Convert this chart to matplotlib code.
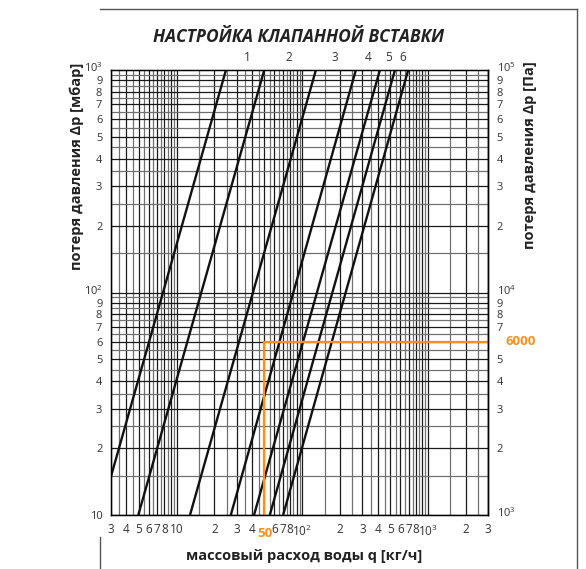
import matplotlib
matplotlib.use("Agg")
import matplotlib.pyplot as plt
import matplotlib.transforms as mtransforms
import numpy as np
from matplotlib.lines import Line2D

plt.rcParams["font.family"] = ["Open Sans", "DejaVu Sans"]
plt.rcParams["mathtext.fontset"] = "custom"
plt.rcParams["mathtext.rm"] = "Open Sans"

TITLE = "НАСТРОЙКА КЛАПАННОЙ ВСТАВКИ"
X_LABEL = "массовый расход воды q [кг/ч]"
Y_LABEL_LEFT = "потеря давления Δp [мбар]"
Y_LABEL_RIGHT = "потеря давления Δp [Па]"

# valve insert curves: flow (kg/h) read where each curve meets 1000 mbar and 10 mbar
SETTINGS = ["1", "2", "3", "4", "5", "6", ""]
Q_AT_1000 = [24.7, 49.8, 128, 266, 413, 544, 693]
Q_AT_10 = [2.47, 4.97, 12.8, 27.0, 41.3, 55.1, 70.3]
DP_ENDS = [1000, 10]
# where the setting numbers sit above the chart (kg/h)
SETTING_LABEL_Q = [36.3, 78.4, 181, 333, 481, 633]

# worked example (orange)
Q_EXAMPLE = 50
DP_EXAMPLE = 60  # mbar -> 6000 Pa

X_TICKS = [3, 4, 5, 6, 7, 8, 10, 20, 30, 40, 60, 70, 80, 100,
           200, 300, 400, 500, 600, 700, 800, 1000, 2000, 3000]
X_TICK_LABELS = ["3", "4", "5", "6", "7", "8", "10", "2", "3", "4", "6", "7", "8",
                 r"$\mathregular{10^2}$", "2", "3", "4", "5", "6", "7", "8",
                 r"$\mathregular{10^3}$", "2", "3"]
Y_TICKS = [10, 20, 30, 40, 50, 60, 70, 80, 90, 100,
           200, 300, 400, 500, 600, 700, 800, 900, 1000]
Y_TICK_LABELS = ["10", "2", "3", "4", "5", "6", "7", "8", "9", r"$\mathregular{10^2}$",
                 "2", "3", "4", "5", "6", "7", "8", "9", r"$\mathregular{10^3}$"]
Y2_TICKS = [1000, 2000, 3000, 4000, 5000, 7000, 8000, 9000, 10000,
            20000, 30000, 40000, 50000, 60000, 70000, 80000, 90000, 100000]
Y2_TICK_LABELS = [r"$\mathregular{10^3}$", "2", "3", "4", "5", "7", "8", "9",
                  r"$\mathregular{10^4}$", "2", "3", "4", "5", "6", "7", "8", "9",
                  r"$\mathregular{10^5}$"]

ORANGE = "#f7901e"
TICK_COLOR = "#333333"
TICK_SIZE = 8.5
Y_TICK_SIZE = 8

fig = plt.figure(figsize=(5.86, 5.69), dpi=100)
ax = fig.add_axes([110.7 / 586, 54 / 569, 377.6 / 586, 445 / 569])
ax.set_xscale("log")
ax.set_yscale("log")
ax.set_xlim(3, 3000)
ax.set_ylim(10, 1000)

# log paper grid: every half unit inside each decade
mult = np.arange(1, 10, 0.5)
for dec in [1, 10, 100, 1000]:
    for m in mult:
        v = m * dec
        if 3 <= v <= 3000:
            c = "#1a1a1a" if m == int(m) else "#707070"
            ax.axvline(v, color=c, lw=0.9, zorder=1)
for dec in [10, 100]:
    for m in mult:
        v = m * dec
        c = "#1a1a1a" if m == int(m) else "#707070"
        ax.axhline(v, color=c, lw=0.9, zorder=1)

for q_top, q_bot in zip(Q_AT_1000, Q_AT_10):
    ax.plot([q_top, q_bot], DP_ENDS, color="#111111", lw=1.7, zorder=3,
            solid_capstyle="butt")

# worked example
ax.plot([Q_EXAMPLE, Q_EXAMPLE], [10, DP_EXAMPLE], color=ORANGE, lw=1.6, zorder=4)
ax.plot([Q_EXAMPLE, 3000], [DP_EXAMPLE, DP_EXAMPLE], color=ORANGE, lw=1.6, zorder=4)

ax.set_xticks(X_TICKS)
ax.set_xticklabels(X_TICK_LABELS)
ax.set_yticks(Y_TICKS)
ax.set_yticklabels(Y_TICK_LABELS)
ax.minorticks_off()
ax.tick_params(length=0, colors=TICK_COLOR, pad=6)
ax.tick_params(axis="x", labelsize=TICK_SIZE)
ax.tick_params(axis="y", labelsize=Y_TICK_SIZE)
for sp in ax.spines.values():
    sp.set_linewidth(1.0)
    sp.set_zorder(5)

ax2 = ax.twinx()
ax2.set_yscale("log")
ax2.set_ylim(1000, 100000)
ax2.set_yticks(Y2_TICKS)
ax2.set_yticklabels(Y2_TICK_LABELS)
ax2.minorticks_off()
ax2.tick_params(length=0, labelsize=Y_TICK_SIZE, colors=TICK_COLOR, pad=6)
ax2.spines["right"].set_linewidth(1.0)

# powers of ten sit a little above their grid line, as on the original sheet
up = mtransforms.ScaledTranslation(0, 3 / 100, fig.dpi_scale_trans)
for axis_ in (ax.yaxis, ax2.yaxis):
    for lab in axis_.get_ticklabels():
        if "10^" in lab.get_text():
            lab.set_transform(lab.get_transform() + up)

for lab, q in zip(SETTINGS, SETTING_LABEL_Q):
    ax.text(q, 1000 * 1.06, lab, ha="center", va="bottom", fontsize=TICK_SIZE,
            color=TICK_COLOR, clip_on=False)

ax.text(Q_EXAMPLE, 10 * 0.83, "50", ha="center", va="center", fontsize=9.5,
        fontweight="bold", color=ORANGE, clip_on=False)
ax.text(1.085, DP_EXAMPLE, "6000", transform=ax.get_yaxis_transform(),
        ha="center", va="center", fontsize=9.5, fontweight="bold", color=ORANGE)

fig.text(299 / 586, 1 - 37 / 569, TITLE, ha="center", va="center",
         fontsize=12.5, fontweight="bold", fontstyle="italic", color="#222222")
fig.text(304 / 586, 1 - 556 / 569, X_LABEL, ha="center", va="center",
         fontsize=10.5, fontweight="bold", color="#222222")
fig.text(77 / 586, 1 - 166 / 569, Y_LABEL_LEFT, ha="center", va="center",
         rotation=90, fontsize=10.5, fontweight="bold", color="#222222")
fig.text(530 / 586, 1 - 155 / 569, Y_LABEL_RIGHT, ha="center", va="center",
         rotation=90, fontsize=10.5, fontweight="bold", color="#222222")

# page frame fragments
frame_kw = dict(color="#555555", lw=1.0, transform=fig.transFigure)
fig.add_artist(Line2D([100 / 586, 577 / 586], [1 - 9 / 569, 1 - 9 / 569], **frame_kw))
fig.add_artist(Line2D([577 / 586, 577 / 586], [1 - 9 / 569, 0], **frame_kw))
fig.add_artist(Line2D([100 / 586, 100 / 586], [1 - 537 / 569, 0], **frame_kw))

fig.savefig("out.png", dpi=100, facecolor="white")
